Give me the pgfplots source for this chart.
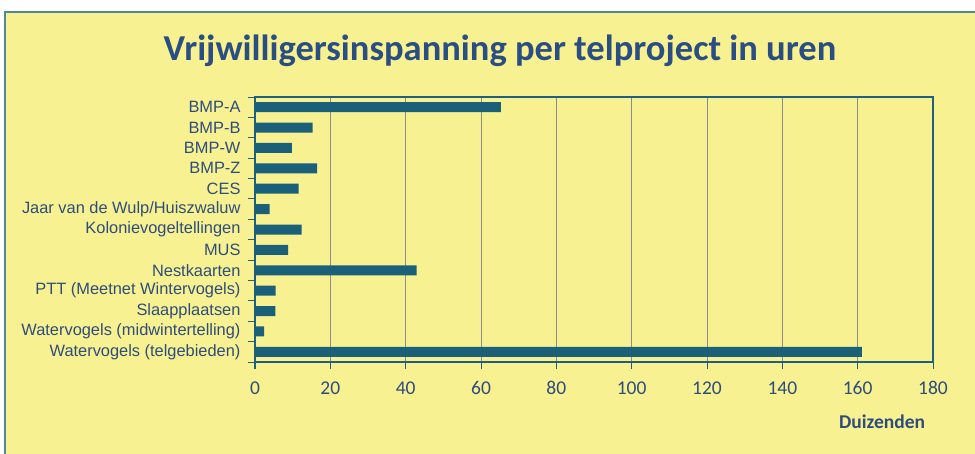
\documentclass[border=0pt]{standalone}
\usepackage{pgfplots}
\pgfplotsset{compat=1.18}
\usepackage{fontspec}
\setmainfont{Liberation Sans}
\newfontfamily\carlito{Carlito}
\definecolor{bgyellow}{HTML}{F7F191}
\definecolor{barteal}{HTML}{1B6079}
\definecolor{axisteal}{HTML}{1F6080}
\definecolor{txtblue}{HTML}{2E4D7B}
\definecolor{titleblue}{HTML}{2A4E82}
\definecolor{framecol}{HTML}{4F8A94}
\definecolor{gridgrey}{HTML}{8C8C8C}
\begin{document}
\begin{tikzpicture}[x=1pt,y=1pt]
\useasboundingbox (0,0) rectangle (975,453);
\clip (0,0) rectangle (975,453);
\fill[white] (0,0) rectangle (975,453);
\fill[bgyellow] (5,-5) rectangle (985,441);
\draw[framecol,line width=1.5pt] (5,-5) -- (5,441) -- (985,441);
\node[text=titleblue,font={\carlito\bfseries\fontsize{36.5}{42}\selectfont}] at (500,402) {Vrijwilligersinspanning per telproject in uren};
\begin{axis}[
  at={(255pt,91pt)}, anchor=south west,
  scale only axis, width=678pt, height=265pt,
  xmin=0, xmax=180, ymin=-0.5, ymax=12.5,
  y dir=reverse,
  xbar, bar width=10pt,
  xtick={0,20,...,180},
  ytick={0,...,12},
  yticklabels={BMP-A,BMP-B,BMP-W,BMP-Z,CES,Jaar van de Wulp/Huiszwaluw,Kolonievogeltellingen,MUS,Nestkaarten,PTT (Meetnet Wintervogels),Slaapplaatsen,Watervogels (midwintertelling),Watervogels (telgebieden)},
  minor ytick={-0.5,0.5,...,12.5},
  major y tick style={draw=none},
  minor y tick style={axisteal,line width=1pt},
  minor tick length=7pt,
  major tick length=7pt,
  tick align=outside,
  x tick style={axisteal,line width=1pt},
  xtick pos=bottom, ytick pos=left,
  xmajorgrids, major x grid style={gridgrey,line width=1pt},
  axis line style={axisteal,line width=1.5pt},
  yticklabel style={text=txtblue,font=\fontsize{16.4}{18}\selectfont,xshift=-4pt},
  xticklabel style={text=txtblue,font={\carlito\fontsize{19.5}{22}\selectfont},yshift=-9pt},
  /pgf/number format/assume math mode=true,
  xlabel={Duizenden},
  xlabel style={at={(rel axis cs:0.925,0)},anchor=north,yshift=-49pt,text=txtblue,font={\carlito\bfseries\fontsize{19.5}{22}\selectfont}},
]
\addplot[fill=barteal,draw=none] coordinates {
(65.3,0) (15.3,1) (9.8,2) (16.5,3) (11.6,4) (3.9,5) (12.4,6) (8.8,7) (42.9,8) (5.5,9) (5.4,10) (2.4,11) (161.1,12)};
\end{axis}
\end{tikzpicture}
\end{document}
